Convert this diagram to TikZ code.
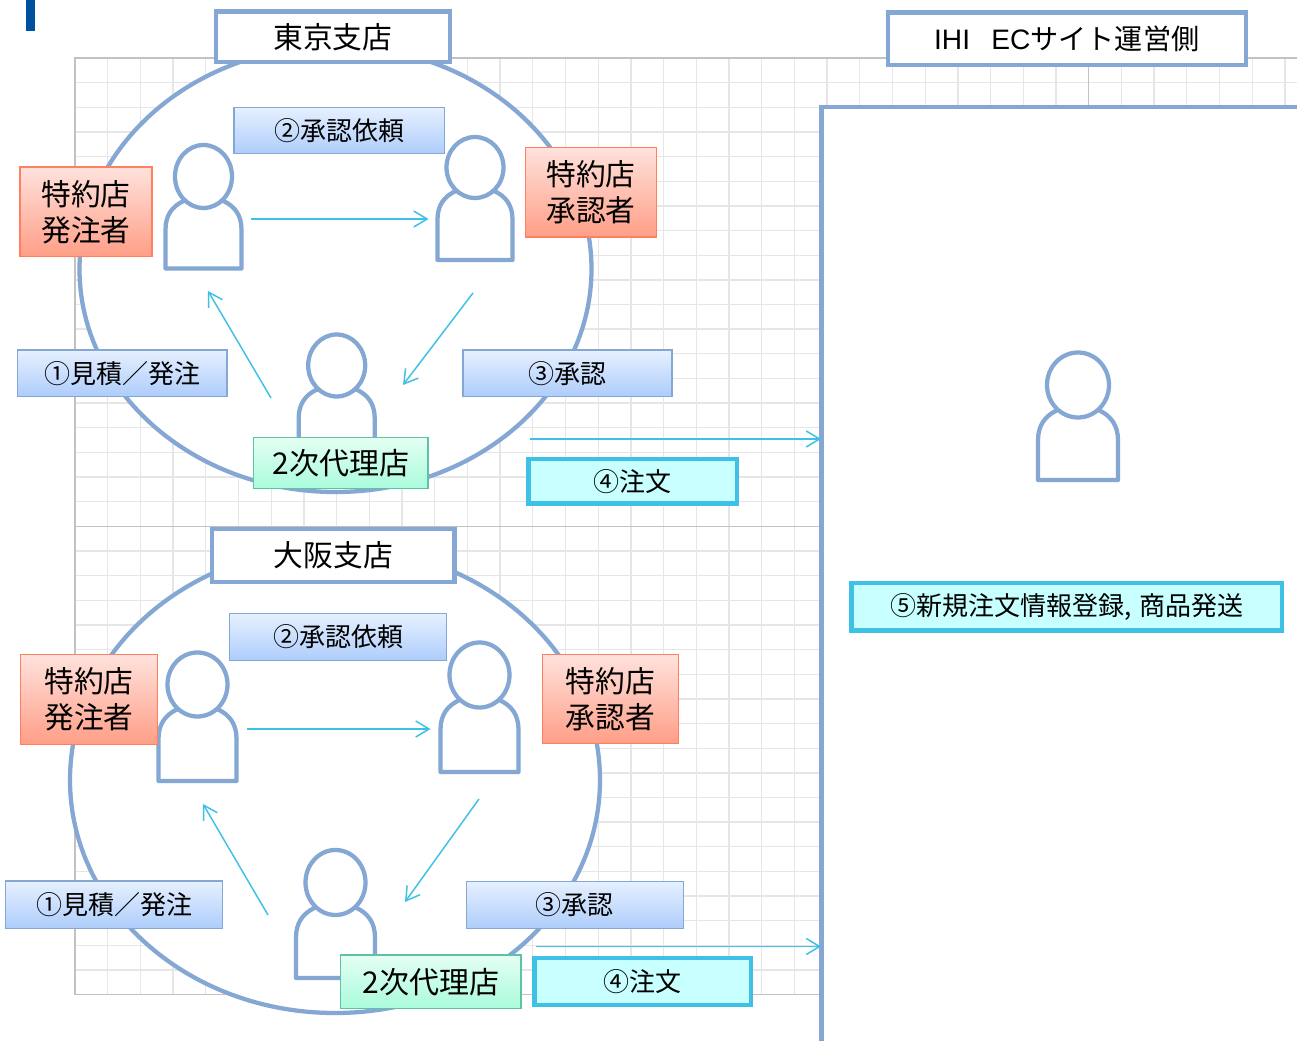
\documentclass[tikz,border=0pt]{standalone}
\usepackage{fontspec}
\setmainfont{Noto Sans CJK JP}
\newfontfamily\latinf{Liberation Sans}
\usetikzlibrary{arrows.meta}
\definecolor{rim}{HTML}{84A7D3}
\definecolor{gridl}{HTML}{E6E6E6}
\definecolor{gridd}{HTML}{C2C2C2}
\definecolor{flow}{HTML}{3FC1E5}
\definecolor{markb}{HTML}{0050A0}
\definecolor{orangeT}{HTML}{FFE2DC}
\definecolor{orangeB}{HTML}{FF9E87}
\definecolor{orangeE}{HTML}{FF7F5F}
\definecolor{blueT}{HTML}{E6F0FF}
\definecolor{blueB}{HTML}{AECDFB}
\definecolor{greenT}{HTML}{E4FFF3}
\definecolor{greenB}{HTML}{AAFBDC}
\definecolor{greenE}{HTML}{5FC2A6}
\definecolor{cyanF}{HTML}{C8FFFF}
\newcommand{\labelbox}[7]{%
  \pgfmathsetmacro\bxw{#5-#3}\pgfmathsetmacro\bxh{#6-#4}%
  \pgfmathsetmacro\bxc{(#5+#3)/2}\pgfmathsetmacro\byc{(#6+#4)/2}%
  \node[#1,minimum width={\bxw*0.75pt-\pgflinewidth},minimum height={\bxh*0.75pt-\pgflinewidth}] (#2) at (\bxc,\byc) {#7};}
\newcommand{\person}[6]{% cx, head cy, rx, ry, half width, bottom
  \pgfmathsetmacro\psx{0.53*#5}\pgfmathsetmacro\psy{#2+0.78*#4}%
  \pgfmathsetmacro\psd{\psy+0.75*#5}%
  \pgfmathsetmacro\pl{#1-#5}\pgfmathsetmacro\pr{#1+#5}%
  \pgfmathsetmacro\pa{#1-\psx}\pgfmathsetmacro\pb{#1+\psx}%
  \pgfmathsetmacro\pca{#1-0.82*#5}\pgfmathsetmacro\pcb{#1+0.82*#5}%
  \pgfmathsetmacro\pcy{\psy+0.14*#5}\pgfmathsetmacro\pcz{\psd-0.38*#5}%
  \draw[figure] (\pa,\psy) .. controls (\pca,\pcy) and (\pl,\pcz) .. (\pl,\psd) -- (\pl,#6) -- (\pr,#6) -- (\pr,\psd) .. controls (\pr,\pcz) and (\pcb,\pcy) .. (\pb,\psy) -- cycle;
  \draw[figure] (#1,#2) ellipse [x radius=#3,y radius=#4];}
\tikzset{
  figure/.style={draw=rim,line width=3.2pt,fill=white,line join=round},
  ring/.style={draw=rim,line width=3.2pt,fill=white},
  basebox/.style={inner sep=0pt,outer sep=0pt,align=center,text=black},
  titlebox/.style={basebox,draw=rim,line width=3.2pt,fill=white,font=\fontsize{22.3}{27}\selectfont},
  orangebox/.style={basebox,line width=1.1pt,font=\fontsize{22.3}{27}\selectfont,top color=orangeT,bottom color=orangeB,draw=orangeE},
  bluebox/.style={basebox,line width=1.1pt,draw=rim,top color=blueT,bottom color=blueB,font=\fontsize{19.5}{24}\selectfont},
  greenbox/.style={basebox,line width=1.1pt,draw=greenE,top color=greenT,bottom color=greenB,font=\fontsize{22.5}{27}\selectfont},
  cyanbox/.style={basebox,line width=3.2pt,draw=flow,fill=cyanF,font=\fontsize{19.5}{24}\selectfont},
  flowline/.style={draw=flow,line width=1.1pt,-{Straight Barb[length=10pt,width=12pt,line width=1.1pt]}},
  gline/.style={draw=gridl,line width=1pt},
  dline/.style={draw=gridd,line width=1pt},
}
\begin{document}
\begin{tikzpicture}[x=0.75pt,y=-0.75pt]
\useasboundingbox (0,0) rectangle (1297,1041);
\fill[white] (0,0) rectangle (1297,1041);
% mark
\fill[markb] (26,0) rectangle (34.5,31);
% grid
\foreach \n in {1,...,37} {\pgfmathsetmacro\gx{75+32.7*\n}\draw[gline] (\gx,58) -- (\gx,994);}
\foreach \n in {1,...,37} {\pgfmathsetmacro\gy{58+24.65*\n}\draw[gline] (75,\gy) -- (1297,\gy);}
\draw[dline] (1297,58) -- (75,58) -- (75,994.5) -- (822,994.5);
\draw[dline] (75,526.3) -- (822,526.3);
\draw[dline] (1088.7,58) -- (1088.7,107);
% right panel
\fill[white] (821.5,107) rectangle (1297,1041);
\draw[rim,line width=3.2pt] (821.5,1045) -- (821.5,107) -- (1300,107);
% rings
\draw[ring] (335.5,269) ellipse [x radius=256,y radius=223];
\draw[ring] (335,780) ellipse [x radius=265,y radius=233];
% people
\person{203.5}{176.5}{28.5}{31.5}{38}{268.5}
\person{475}{167.5}{28.5}{30.5}{37.5}{260}
\person{336.7}{365.5}{28.5}{31}{38}{470}
\person{197.5}{684.5}{30}{32}{39}{781}
\person{479.5}{675}{30}{32.5}{39}{772}
\person{335.5}{882.5}{30}{32.5}{39.5}{978}
\person{1078}{385}{31}{32.5}{40}{480}
% connectors
\coordinate (ta1) at (251,219); \coordinate (tb1) at (428.5,219);
\coordinate (ta2) at (271,398); \coordinate (tb2) at (208,291);
\coordinate (ta3) at (473,293); \coordinate (tb3) at (403,385);
\coordinate (ta4) at (530,439); \coordinate (tb4) at (821,439);
\coordinate (oa1) at (247,729); \coordinate (ob1) at (430.5,729);
\coordinate (oa2) at (268,915); \coordinate (ob2) at (203,804);
\coordinate (oa3) at (479,799); \coordinate (ob3) at (405,902);
\coordinate (oa4) at (536,946.5); \coordinate (ob4) at (821,946.5);
\draw[flowline] (ta1) -- (tb1);
\draw[flowline] (ta2) -- (tb2);
\draw[flowline] (ta3) -- (tb3);
\draw[flowline] (ta4) -- (tb4);
\draw[flowline] (oa1) -- (ob1);
\draw[flowline] (oa2) -- (ob2);
\draw[flowline] (oa3) -- (ob3);
\draw[flowline] (oa4) -- (ob4);
% titles
\labelbox{titlebox}{tokyo}{213.5}{9.5}{452}{64}{\raisebox{-0.7pt}{東京支店}}
\labelbox{titlebox}{ihi}{885.5}{10.5}{1248}{67.5}{\fontsize{21.1}{27}\selectfont\raisebox{0.7pt}{{\latinf IHI\hspace{16pt}EC}サイト運営側}}
\labelbox{titlebox}{osaka}{210}{526.7}{456.7}{584}{大阪支店}
% Tokyo labels
\labelbox{orangebox}{torder}{19.3}{166.5}{152.7}{257.3}{特約店\\発注者}
\labelbox{orangebox}{tappr}{525}{146.7}{657}{237.7}{特約店\\承認者}
\labelbox{bluebox}{treq}{233.3}{106.7}{445}{154.3}{②承認依頼}
\labelbox{bluebox}{test}{16.7}{349.3}{227.7}{397}{①見積／発注}
\labelbox{bluebox}{tok}{462.4}{349.5}{672.9}{397}{③承認}
\labelbox{greenbox}{tagent}{253}{436.7}{428.7}{489}{2次代理店}
\labelbox{cyanbox}{tpo}{526.3}{456.7}{739}{505.7}{\raisebox{-0.7pt}{④注文}}
% Osaka labels
\labelbox{orangebox}{oorder}{20}{654}{158}{745}{特約店\\発注者}
\labelbox{orangebox}{oappr}{541.7}{654}{679.3}{744.3}{特約店\\承認者}
\labelbox{bluebox}{oreq}{229}{613}{447}{661}{②承認依頼}
\labelbox{bluebox}{oest}{5}{880.3}{223.3}{929}{①見積／発注}
\labelbox{bluebox}{ook}{465.5}{880.7}{684.4}{929.3}{③承認}
\labelbox{greenbox}{oagent}{340}{954.3}{521.7}{1009}{2次代理店}
\labelbox{cyanbox}{opo}{532.4}{955.7}{753.2}{1007.3}{④注文}
% EC site
\labelbox{cyanbox}{reg}{849.3}{580.7}{1284}{632.7}{⑤新規注文情報登録,\hspace{6pt}商品発送}
\end{tikzpicture}
\end{document}
